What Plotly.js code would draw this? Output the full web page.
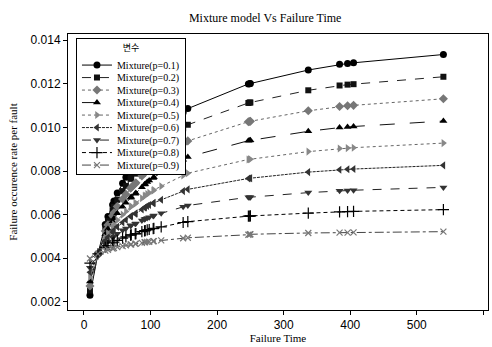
<!DOCTYPE html>
<html>
<head>
<meta charset="utf-8">
<script src="https://cdn.plot.ly/plotly-3.0.1.min.js"></script>
<style>
  html, body { margin: 0; padding: 0; background: #fff; }
  #chart { width: 492px; height: 347px; }
</style>
</head>
<body>
<div id="chart"></div>
<script>
// Cumulative failure times (x values)
const failureTime = [9, 21, 32, 36, 43, 45, 50, 58, 63, 70, 71, 77, 78, 87, 91, 92, 95, 98, 104, 105, 116, 149, 156, 247, 249, 250, 337, 384, 396, 405, 540];

// Series names
const seriesNames = ["Mixture(p=0.1)", "Mixture(p=0.2)", "Mixture(p=0.3)", "Mixture(p=0.4)", "Mixture(p=0.5)", "Mixture(p=0.6)", "Mixture(p=0.7)", "Mixture(p=0.8)", "Mixture(p=0.9)"];

// Failure occurrence rate per fault
const p01 = [0.00231, 0.00420, 0.00555, 0.00591, 0.00645, 0.00663, 0.00699, 0.00744, 0.00771, 0.00807, 0.00812, 0.00834, 0.00839, 0.00879, 0.00897, 0.00902, 0.00915, 0.00924, 0.00942, 0.00947, 0.00978, 0.01068, 0.01086, 0.01199, 0.01200, 0.01201, 0.01263, 0.01289, 0.01293, 0.01296, 0.01334];
const p02 = [0.00252, 0.00420, 0.00540, 0.00572, 0.00620, 0.00636, 0.00668, 0.00708, 0.00732, 0.00764, 0.00768, 0.00788, 0.00792, 0.00828, 0.00844, 0.00848, 0.00860, 0.00868, 0.00884, 0.00888, 0.00916, 0.00996, 0.01012, 0.01112, 0.01114, 0.01114, 0.01170, 0.01192, 0.01196, 0.01198, 0.01232];
const p03 = [0.00273, 0.00420, 0.00525, 0.00553, 0.00595, 0.00609, 0.00637, 0.00672, 0.00693, 0.00721, 0.00725, 0.00742, 0.00746, 0.00777, 0.00791, 0.00795, 0.00805, 0.00812, 0.00826, 0.00830, 0.00854, 0.00924, 0.00938, 0.01026, 0.01027, 0.01028, 0.01076, 0.01096, 0.01099, 0.01101, 0.01131];
const p04 = [0.00294, 0.00420, 0.00510, 0.00534, 0.00570, 0.00582, 0.00606, 0.00636, 0.00654, 0.00678, 0.00681, 0.00696, 0.00699, 0.00726, 0.00738, 0.00741, 0.00750, 0.00756, 0.00768, 0.00771, 0.00792, 0.00852, 0.00864, 0.00939, 0.00940, 0.00941, 0.00982, 0.00999, 0.01002, 0.01004, 0.01029];
const p05 = [0.00315, 0.00420, 0.00495, 0.00515, 0.00545, 0.00555, 0.00575, 0.00600, 0.00615, 0.00635, 0.00638, 0.00650, 0.00653, 0.00675, 0.00685, 0.00688, 0.00695, 0.00700, 0.00710, 0.00713, 0.00730, 0.00780, 0.00790, 0.00853, 0.00854, 0.00854, 0.00889, 0.00903, 0.00905, 0.00907, 0.00928];
const p06 = [0.00336, 0.00420, 0.00480, 0.00496, 0.00520, 0.00528, 0.00544, 0.00564, 0.00576, 0.00592, 0.00594, 0.00604, 0.00606, 0.00624, 0.00632, 0.00634, 0.00640, 0.00644, 0.00652, 0.00654, 0.00668, 0.00708, 0.00716, 0.00766, 0.00767, 0.00767, 0.00795, 0.00806, 0.00808, 0.00809, 0.00826];
const p07 = [0.00357, 0.00420, 0.00465, 0.00477, 0.00495, 0.00501, 0.00513, 0.00528, 0.00537, 0.00549, 0.00551, 0.00558, 0.00560, 0.00573, 0.00579, 0.00581, 0.00585, 0.00588, 0.00594, 0.00596, 0.00606, 0.00636, 0.00642, 0.00680, 0.00680, 0.00680, 0.00701, 0.00710, 0.00711, 0.00712, 0.00725];
const p08 = [0.00378, 0.00420, 0.00450, 0.00458, 0.00470, 0.00474, 0.00482, 0.00492, 0.00498, 0.00506, 0.00507, 0.00512, 0.00513, 0.00522, 0.00526, 0.00527, 0.00530, 0.00532, 0.00536, 0.00537, 0.00544, 0.00564, 0.00568, 0.00593, 0.00593, 0.00594, 0.00607, 0.00613, 0.00614, 0.00615, 0.00623];
const p09 = [0.00399, 0.00420, 0.00435, 0.00439, 0.00445, 0.00447, 0.00451, 0.00456, 0.00459, 0.00463, 0.00464, 0.00466, 0.00467, 0.00471, 0.00473, 0.00474, 0.00475, 0.00476, 0.00478, 0.00479, 0.00482, 0.00492, 0.00494, 0.00508, 0.00509, 0.00510, 0.00516, 0.00518, 0.00518, 0.00519, 0.00522];

const seriesValues = [p01, p02, p03, p04, p05, p06, p07, p08, p09];

// Tick values
const xTicks = [0, 100, 200, 300, 400, 500, 600];
const yTicks = [0.002, 0.004, 0.006, 0.008, 0.010, 0.012, 0.014];

// Styles (per series)
const styles = [
  { symbol: "circle",         mcolor: "#000", size: 7, lcolor: "#000", dash: "solid" },
  { symbol: "square",         mcolor: "#111", size: 6, lcolor: "#222", dash: "dash" },
  { symbol: "diamond",        mcolor: "#777", size: 7, lcolor: "#666", dash: "dot" },
  { symbol: "triangle-up",    mcolor: "#000", size: 7, lcolor: "#111", dash: "longdash" },
  { symbol: "triangle-right", mcolor: "#888", size: 7, lcolor: "#666", dash: "dot" },
  { symbol: "triangle-left",  mcolor: "#333", size: 7, lcolor: "#222", dash: "3px,1px" },
  { symbol: "triangle-down",  mcolor: "#333", size: 7, lcolor: "#222", dash: "dash" },
  { symbol: "cross-thin",     mcolor: "#000", size: 8, lcolor: "#000", dash: "4px,3px" },
  { symbol: "x-thin",         mcolor: "#777", size: 6, lcolor: "#444", dash: "dashdot" }
];

const traces = seriesValues.map((vals, i) => {
  const s = styles[i];
  const thin = s.symbol.endsWith("-thin");
  return {
    type: "scatter",
    mode: "lines+markers",
    name: seriesNames[i],
    x: failureTime,
    y: vals,
    line: { color: s.lcolor, width: 1, dash: s.dash },
    marker: {
      symbol: s.symbol,
      size: s.size,
      color: s.mcolor,
      line: { color: s.mcolor, width: thin ? 1.2 : 0 }
    }
  };
});

const serif = "Liberation Serif, Times New Roman, serif";
const sans = "Liberation Sans, Arial, sans-serif";

const layout = {
  width: 492,
  height: 347,
  margin: { l: 68, r: 4, t: 34, b: 37 },
  paper_bgcolor: "#fff",
  plot_bgcolor: "#fff",
  title: {
    text: "Mixture model Vs Failure Time",
    font: { family: serif, size: 12, color: "#000" },
    x: 0.539, xanchor: "center", xref: "container",
    y: 0.95, yanchor: "middle", yref: "container"
  },
  xaxis: {
    range: [-24, 607],
    tickvals: xTicks,
    ticktext: xTicks.map(String),
    ticks: "outside", ticklen: 4, tickcolor: "#000",
    showline: true, linecolor: "#000", linewidth: 1, mirror: true,
    showgrid: false, zeroline: false,
    tickfont: { family: sans, size: 12, color: "#000" },
    title: { text: "Failure Time", font: { family: serif, size: 11, color: "#000" }, standoff: 2 }
  },
  yaxis: {
    range: [0.00163, 0.01428],
    tickvals: yTicks,
    tickformat: ".3f",
    ticks: "outside", ticklen: 4, tickcolor: "#000",
    showline: true, linecolor: "#000", linewidth: 1, mirror: true,
    showgrid: false, zeroline: false,
    tickfont: { family: sans, size: 12, color: "#000" },
    title: { text: "Failure occurence rate per fault", font: { family: serif, size: 11, color: "#000" }, standoff: 10 }
  },
  showlegend: true,
  legend: {
    x: 0.019, xanchor: "left",
    y: 0.986, yanchor: "top",
    bgcolor: "#fff",
    bordercolor: "#000",
    borderwidth: 1,
    font: { family: serif, size: 10, color: "#000" },
    title: { text: "변수", side: "top center", font: { family: "Noto Sans CJK KR, sans-serif", size: 9, color: "#000" } },
    itemwidth: 30,
    tracegroupgap: 0
  }
};

const gd = document.getElementById("chart");
Plotly.newPlot(gd, traces, layout, { displayModeBar: false, staticPlot: true }).then(() => {
  // compact the legend rows to match the reference spacing
  const items = gd.querySelectorAll(".legend .traces");
  if (!items.length) return;
  const step = 12.5;
  let y0 = null, lastY = 0;
  items.forEach((el, i) => {
    const tr = el.getAttribute("transform") || "";
    const m = tr.match(/translate\(\s*([-\d.]+)[ ,]+([-\d.]+)\s*\)/);
    if (!m) return;
    const x = parseFloat(m[1]);
    const y = parseFloat(m[2]);
    if (y0 === null) y0 = y;
    lastY = y0 + i * step;
    el.setAttribute("transform", "translate(" + x + "," + lastY + ")");
  });
  const bg = gd.querySelector(".legend .bg");
  if (bg && y0 !== null) {
    bg.setAttribute("height", String(lastY + 9));
  }
});
</script>
</body>
</html>
